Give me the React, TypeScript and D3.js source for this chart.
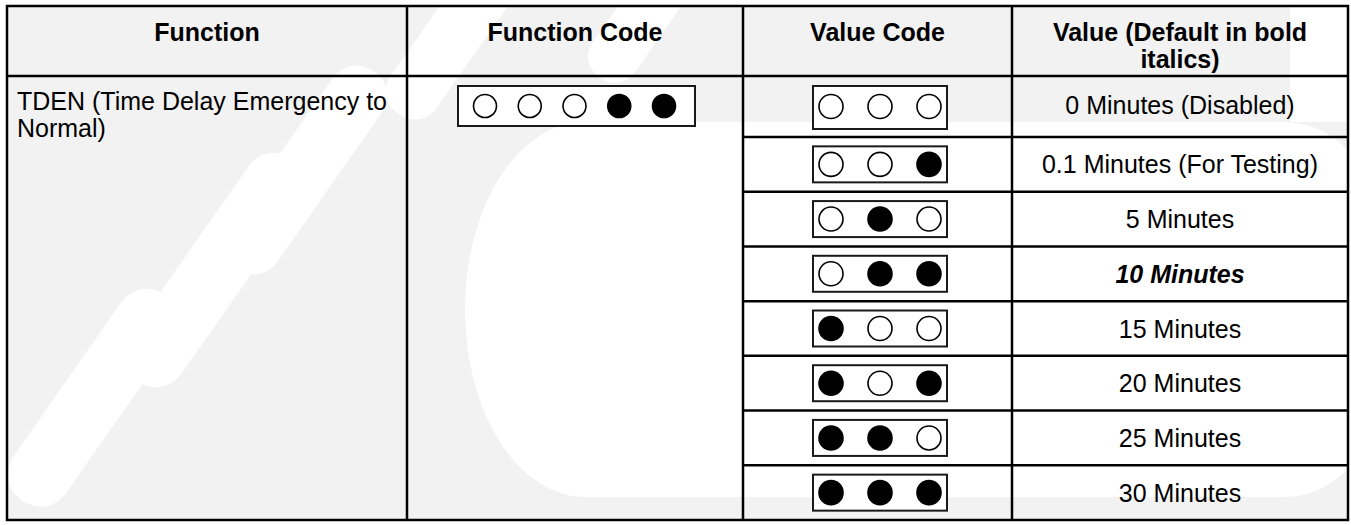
import React from 'react';
import * as d3 from 'd3';

// table content
const headers = ['Function', 'Function Code', 'Value Code', 'Value (Default in bold italics)'];
const headerLines = [['Function'], ['Function Code'], ['Value Code'], ['Value (Default in bold', 'italics)']];
const functionLines = ['TDEN (Time Delay Emergency to', 'Normal)'];
const functionCode = [0, 0, 0, 1, 1];
const valueCodes = [
  [0, 0, 0],
  [0, 0, 1],
  [0, 1, 0],
  [0, 1, 1],
  [1, 0, 0],
  [1, 0, 1],
  [1, 1, 0],
  [1, 1, 1],
];
const valueLabels = [
  '0 Minutes (Disabled)',
  '0.1 Minutes (For Testing)',
  '5 Minutes',
  '10 Minutes',
  '15 Minutes',
  '20 Minutes',
  '25 Minutes',
  '30 Minutes',
];
const defaultIndex = 3;

const W = 1351;
const H = 525;
const colEdges = [7, 407, 743, 1012, 1348];
const top = 6;
const headerH = 70;
const firstRowH = 61;
const bottom = 520;
const lineGap = 27;
const font = '"Liberation Sans", Arial, sans-serif';

const App = () => {
  // row edges: first row a bit taller, the rest split the remaining height
  const restH = (bottom - (top + headerH + firstRowH)) / (valueLabels.length - 1);
  const rowH = valueLabels.map((_, i) => (i === 0 ? firstRowH : restH));
  const rowEdges = [top + headerH, ...Array.from(d3.cumsum(rowH), (v) => top + headerH + v)];
  const rowMid = (i) => (rowEdges[i] + rowEdges[i + 1]) / 2;
  const colMid = (j) => (colEdges[j] + colEdges[j + 1]) / 2;

  const fnX = d3.scalePoint().domain(d3.range(functionCode.length)).range([485, 664]);
  const valX = d3.scalePoint().domain(d3.range(3)).range([831, 929]);

  return (
    <svg width={W} height={H} style={{ position: 'absolute', left: 0, top: 0, background: '#fff' }}>
      <defs>
        <clipPath id="tbl">
          <rect x={colEdges[0]} y={top} width={colEdges[4] - colEdges[0]} height={bottom - top} />
        </clipPath>
      </defs>

      {/* background + faint watermark */}
      <g clipPath="url(#tbl)">
        <rect x={0} y={0} width={W} height={H} fill="#f2f2f2" />
        <g fill="#ffffff">
          <rect x={465} y={122} width={940} height={375} rx={120} ry={187} />
          <rect x={-110} y={-32} width={250} height={64} rx={30} transform="translate(85,410) rotate(-55)" />
          <rect x={-135} y={-32} width={270} height={64} rx={30} transform="translate(215,270) rotate(-55)" />
          <rect x={-120} y={-30} width={240} height={60} rx={28} transform="translate(305,170) rotate(-55)" />
          <rect x={-90} y={-28} width={180} height={56} rx={26} transform="translate(450,40) rotate(-55)" />
          <rect x={-70} y={-26} width={140} height={52} rx={24} transform="translate(640,20) rotate(-55)" />
          <rect x={1290} y={0} width={80} height={122} />
        </g>
      </g>

      {/* grid lines */}
      <g stroke="#000" strokeWidth={2.5}>
        <rect x={colEdges[0]} y={top} width={colEdges[4] - colEdges[0]} height={bottom - top} fill="none" />
        <line x1={colEdges[0]} x2={colEdges[4]} y1={rowEdges[0]} y2={rowEdges[0]} />
        {colEdges.slice(1, 4).map((x) => (
          <line key={x} x1={x} x2={x} y1={top} y2={bottom} />
        ))}
        {rowEdges.slice(1, -1).map((y) => (
          <line key={y} x1={colEdges[2]} x2={colEdges[4]} y1={y} y2={y} />
        ))}
      </g>

      {/* header */}
      <g fontFamily={font} fontSize={25} fontWeight="bold" textAnchor="middle" fill="#000">
        {headerLines.map((lines, j) =>
          lines.map((t, k) => (
            <text key={headers[j] + k} x={colMid(j)} y={32 + k * lineGap} dominantBaseline="central">
              {t}
            </text>
          ))
        )}
      </g>

      {/* function name */}
      <g fontFamily={font} fontSize={25} fill="#000">
        {functionLines.map((t, k) => (
          <text key={k} x={17} y={101 + k * lineGap} dominantBaseline="central">
            {t}
          </text>
        ))}
      </g>

      {/* function code switch */}
      <rect x={458} y={86} width={237} height={40} fill="#fff" stroke="#1a1a1a" strokeWidth={2} />
      {functionCode.map((v, i) => (
        <circle key={i} cx={fnX(i)} cy={106} r={11.5} fill={v ? '#000' : '#fff'} stroke="#000" strokeWidth={1.6} />
      ))}

      {/* value code switches */}
      {valueCodes.map((code, r) => {
        const cy = rowMid(r);
        const bh = r === 0 ? 43 : 36;
        return (
          <g key={r}>
            <rect x={813} y={cy - bh / 2 + (r === 0 ? 1 : 0)} width={134} height={bh} fill="#fff" stroke="#1a1a1a" strokeWidth={2} />
            {code.map((v, i) => (
              <circle key={i} cx={valX(i)} cy={cy} r={12} fill={v ? '#000' : '#fff'} stroke="#000" strokeWidth={1.6} />
            ))}
          </g>
        );
      })}

      {/* value labels */}
      <g fontFamily={font} fontSize={25} textAnchor="middle" fill="#000">
        {valueLabels.map((t, r) => (
          <text
            key={t}
            x={colMid(3)}
            y={rowMid(r) - (r === 0 ? 2 : 0)}
            dominantBaseline="central"
            fontWeight={r === defaultIndex ? 'bold' : 'normal'}
            fontStyle={r === defaultIndex ? 'italic' : 'normal'}
          >
            {t}
          </text>
        ))}
      </g>
    </svg>
  );
};

export default App;
